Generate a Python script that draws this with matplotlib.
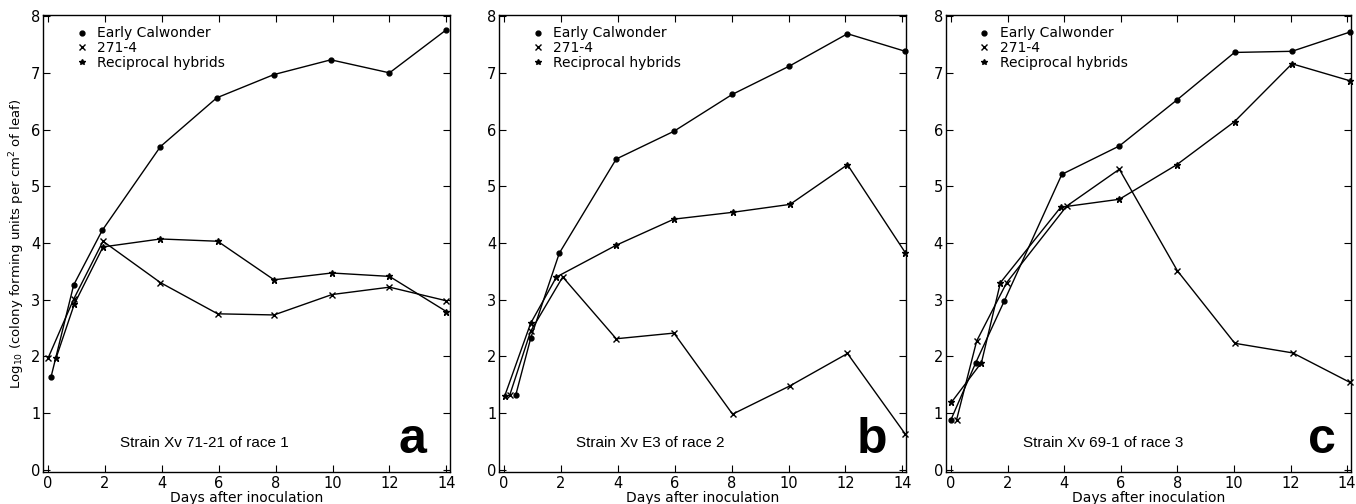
import matplotlib.pyplot as plt
from matplotlib.lines import Line2D

# Panel a - strain Xv 71-21 of race 1
a_days_ec = [0.1, 0.9, 1.9, 3.95, 5.93, 7.94, 9.94, 12.0, 14.0]
a_ec = [1.63, 3.26, 4.22, 5.70, 6.56, 6.97, 7.23, 7.0, 7.76]
a_days_271 = [0.0, 0.9, 1.93, 3.95, 5.96, 7.94, 9.98, 12.0, 14.0]
a_271 = [1.97, 3.01, 4.03, 3.30, 2.75, 2.73, 3.09, 3.22, 2.98]
a_days_hyb = [0.28, 0.92, 1.93, 3.95, 5.96, 7.94, 9.97, 12.0, 14.0]
a_hyb = [1.97, 2.92, 3.93, 4.07, 4.03, 3.35, 3.47, 3.41, 2.79]

# Panel b - strain Xv E3 of race 2
b_days_ec = [0.41, 0.94, 1.94, 3.94, 5.97, 8.02, 10.03, 12.07, 14.1]
b_ec = [1.32, 2.33, 3.82, 5.48, 5.97, 6.62, 7.12, 7.69, 7.38]
b_days_271 = [0.2, 0.93, 2.06, 3.94, 5.97, 8.03, 10.05, 12.07, 14.1]
b_271 = [1.32, 2.44, 3.40, 2.31, 2.41, 0.98, 1.48, 2.05, 0.63]
b_days_hyb = [0.02, 0.93, 1.84, 3.94, 5.97, 8.03, 10.05, 12.07, 14.1]
b_hyb = [1.30, 2.58, 3.40, 3.96, 4.42, 4.54, 4.68, 5.38, 3.83]

# Panel c - strain Xv 69-1 of race 3
c_days_ec = [0.0, 0.88, 1.88, 3.92, 5.95, 7.98, 10.02, 12.05, 14.1]
c_ec = [0.88, 1.89, 2.97, 5.21, 5.71, 6.52, 7.36, 7.38, 7.72]
c_days_271 = [0.2, 0.91, 1.97, 4.09, 5.95, 8.0, 10.03, 12.08, 14.1]
c_271 = [0.88, 2.27, 3.30, 4.65, 5.30, 3.51, 2.23, 2.06, 1.54]
c_days_hyb = [0.02, 1.08, 1.75, 3.88, 5.95, 7.98, 10.02, 12.05, 14.1]
c_hyb = [1.19, 1.89, 3.30, 4.63, 4.77, 5.38, 6.14, 7.16, 6.86]

strains = ['Strain Xv 71-21 of race 1', 'Strain Xv E3 of race 2',
           'Strain Xv 69-1 of race 3']
letters = ['a', 'b', 'c']
series_names = ['Early Calwonder', '271-4', 'Reciprocal hybrids']

panels = [
    (a_days_ec, a_ec, a_days_271, a_271, a_days_hyb, a_hyb),
    (b_days_ec, b_ec, b_days_271, b_271, b_days_hyb, b_hyb),
    (c_days_ec, c_ec, c_days_271, c_271, c_days_hyb, c_hyb),
]

plt.rcParams['font.family'] = 'DejaVu Sans'
fig = plt.figure(figsize=(13.56, 5.04), dpi=100)
lefts = [0.0317, 0.368, 0.6975]
widths = [0.300, 0.300, 0.2985]
letter_x = [0.909, 0.916, 0.93]

for i, (dx1, y1, dx2, y2, dx3, y3) in enumerate(panels):
    ax = fig.add_axes([lefts[i], 0.0635, widths[i], 0.9067])
    ax.plot(dx1, y1, color='black', lw=1, marker='o', ms=3.5, clip_on=False)
    ax.plot(dx2, y2, color='black', lw=1, marker='x', ms=4.5, mew=1,
            clip_on=False)
    ax.plot(dx3, y3, color='black', lw=1, marker='*', ms=4.5, clip_on=False)

    ax.set_xlim(-0.18, 14.12)
    ax.set_ylim(-0.04, 8.02)
    ax.set_xticks(range(0, 15, 2))
    ax.set_yticks(range(0, 9))
    ax.tick_params(direction='in', top=True, right=True, length=5,
                   width=0.8, labelsize=10.5)
    ax.tick_params(axis='y', pad=2)
    ax.tick_params(axis='x', pad=3)
    for sp in ax.spines.values():
        sp.set_linewidth(1)
    ax.set_xlabel('Days after inoculation', fontsize=10, labelpad=0)

    # legend: dot, cross and small star, no frame
    handles = [
        Line2D([], [], color='black', marker='o', ms=3.5, ls='none'),
        Line2D([], [], color='black', marker='x', ms=4, mew=1, ls='none'),
        Line2D([], [], color='black', marker='*', ms=4, ls='none'),
    ]
    ax.legend(handles, series_names, loc='upper left',
              bbox_to_anchor=(0.085, 0.975), frameon=False, fontsize=10,
              handlelength=0.6, handletextpad=0.8, labelspacing=0.05,
              borderpad=0, borderaxespad=0)

    ax.text(0.19, 0.055, strains[i], transform=ax.transAxes,
            family='Liberation Sans', fontsize=11, va='baseline')
    ax.text(letter_x[i], 0.042, letters[i], transform=ax.transAxes,
            family='Liberation Sans', fontweight='bold', fontsize=36,
            ha='center', va='baseline')

    if i == 0:
        ax.set_ylabel(r'Log$_{10}$ (colony forming units per cm$^2$ of leaf)',
                      fontsize=9.5, labelpad=3)

fig.savefig('out.png', dpi=100)
